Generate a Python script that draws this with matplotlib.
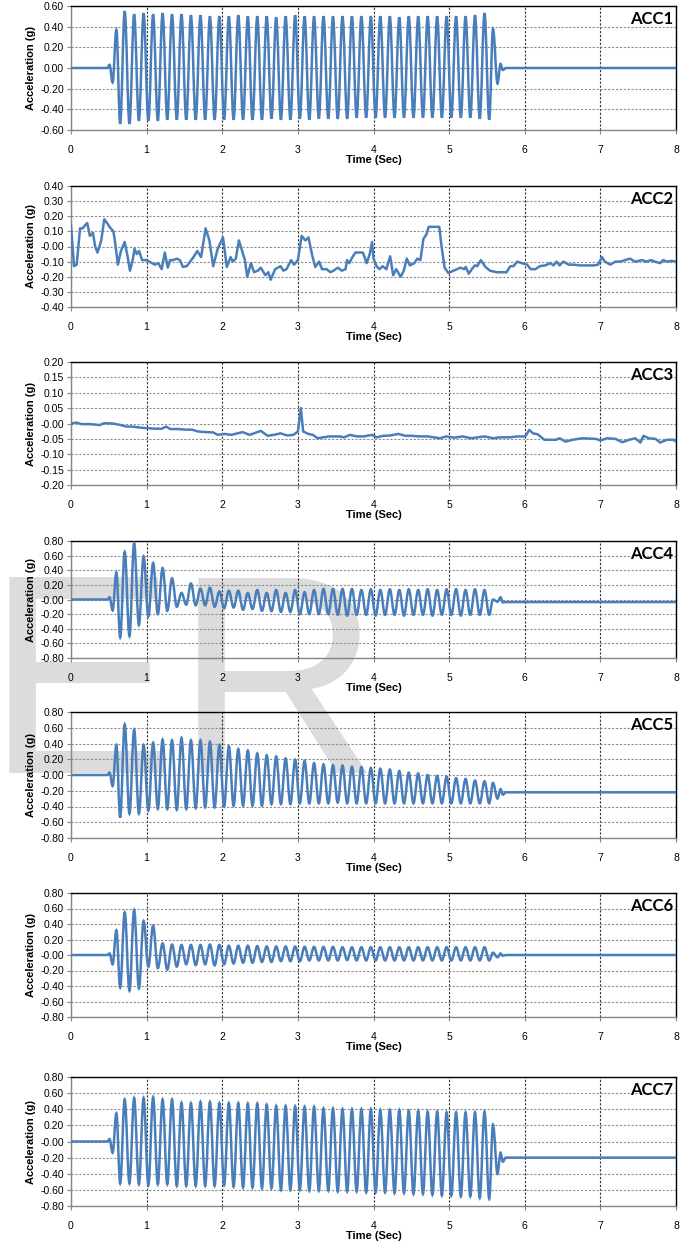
import matplotlib
matplotlib.use('Agg')
import matplotlib.pyplot as plt
from matplotlib.path import Path
from matplotlib.patches import PathPatch
import numpy as np

# shared extremum times of the 8 Hz shaking (pre-motion, 39 peak/trough pairs, tail)
ext_t = [0.0, 0.48, 0.51, 0.55, 0.60, 0.65,
         0.710, 0.773, 0.835, 0.898, 0.960, 1.023, 1.086, 1.148, 1.211, 1.273,
         1.336, 1.399, 1.461, 1.524, 1.586, 1.649, 1.712, 1.774, 1.837, 1.899,
         1.962, 2.025, 2.087, 2.150, 2.212, 2.275, 2.338, 2.400, 2.463, 2.525,
         2.588, 2.651, 2.713, 2.776, 2.838, 2.901, 2.964, 3.026, 3.089, 3.151,
         3.214, 3.277, 3.339, 3.402, 3.464, 3.527, 3.590, 3.652, 3.715, 3.777,
         3.840, 3.903, 3.965, 4.028, 4.090, 4.153, 4.216, 4.278, 4.341, 4.403,
         4.466, 4.529, 4.591, 4.654, 4.716, 4.779, 4.842, 4.904, 4.967, 5.029,
         5.092, 5.155, 5.217, 5.280, 5.342, 5.405, 5.468, 5.530,
         5.58, 5.64, 5.68, 5.71, 5.75, 8.0]

acc1_pre = [0, 0, 0.03, -0.14, 0.37, -0.54]
acc1_peaks = [0.55, 0.52, 0.53, 0.52, 0.53, 0.52, 0.52, 0.51, 0.51, 0.50, 0.50, 0.50, 0.51,
              0.50, 0.50, 0.50, 0.49, 0.50, 0.51, 0.50, 0.50, 0.50, 0.50, 0.50, 0.50, 0.50,
              0.50, 0.50, 0.50, 0.49, 0.50, 0.50, 0.50, 0.50, 0.50, 0.50, 0.50, 0.51, 0.53]
acc1_troughs = [-0.54, -0.51, -0.51, -0.51, -0.50, -0.50, -0.50, -0.50, -0.50, -0.50, -0.50,
                -0.50, -0.50, -0.50, -0.50, -0.49, -0.50, -0.50, -0.49, -0.50, -0.49, -0.49,
                -0.49, -0.49, -0.48, -0.48, -0.48, -0.48, -0.48, -0.48, -0.48, -0.48, -0.48,
                -0.48, -0.48, -0.48, -0.48, -0.49, -0.50]
acc1_tail = [0.38, -0.15, 0.04, -0.02, 0.0, 0.0]

acc4_pre = [0, 0, 0.03, -0.15, 0.37, -0.52]
acc4_peaks = [0.65, 0.77, 0.59, 0.50, 0.43, 0.29, 0.09, 0.22, 0.15, 0.16, 0.11, 0.12, 0.12,
              0.09, 0.13, 0.09, 0.13, 0.09, 0.13, 0.10, 0.13, 0.145, 0.145, 0.145, 0.145,
              0.13, 0.14, 0.13, 0.14, 0.13, 0.14, 0.13, 0.14, 0.13, 0.14, 0.14, 0.13, 0.14, 0.13]
acc4_troughs = [-0.50, -0.35, -0.23, -0.20, -0.155, -0.10, -0.07, -0.08, -0.08, -0.10, -0.12,
                -0.11, -0.14, -0.13, -0.155, -0.16, -0.17, -0.17, -0.20, -0.20, -0.20, -0.20,
                -0.21, -0.22, -0.21, -0.21, -0.22, -0.21, -0.21, -0.22, -0.21, -0.21, -0.22,
                -0.21, -0.21, -0.22, -0.21, -0.21, -0.21]
acc4_tail = [0.0, -0.03, 0.03, -0.04, -0.035, -0.035]

acc5_pre = [0, 0, 0.03, -0.14, 0.38, -0.54]
acc5_peaks = [0.64, 0.575, 0.38, 0.41, 0.45, 0.44, 0.47, 0.44, 0.44, 0.42, 0.38, 0.365, 0.33,
              0.31, 0.275, 0.25, 0.235, 0.21, 0.195, 0.18, 0.15, 0.135, 0.125, 0.12, 0.105,
              0.10, 0.09, 0.08, 0.07, 0.05, 0.03, 0.02, 0.0, -0.01, -0.02, -0.04, -0.05, -0.07, -0.08]
acc5_troughs = [-0.49, -0.49, -0.45, -0.43, -0.43, -0.44, -0.43, -0.42, -0.41, -0.41, -0.40,
                -0.39, -0.39, -0.39, -0.39, -0.37, -0.37, -0.37, -0.36, -0.36, -0.36, -0.36,
                -0.35, -0.36, -0.36, -0.36, -0.36, -0.36, -0.36, -0.36, -0.36, -0.36, -0.36,
                -0.36, -0.36, -0.36, -0.36, -0.36, -0.36]
acc5_tail = [-0.10, -0.30, -0.18, -0.25, -0.22, -0.22]

acc6_pre = [0, 0, 0.02, -0.12, 0.32, -0.42]
acc6_peaks = [0.55, 0.58, 0.44, 0.38, 0.15, 0.135, 0.13, 0.13, 0.13, 0.135, 0.13, 0.12, 0.12,
              0.12, 0.115, 0.11, 0.11, 0.11, 0.11, 0.105, 0.105, 0.105, 0.105, 0.10, 0.10,
              0.10, 0.10, 0.10, 0.10, 0.10, 0.10, 0.10, 0.10, 0.10, 0.10, 0.10, 0.10, 0.10, 0.10]
acc6_troughs = [-0.46, -0.43, -0.15, -0.17, -0.19, -0.15, -0.12, -0.13, -0.12, -0.135, -0.12,
                -0.11, -0.10, -0.10, -0.09, -0.09, -0.08, -0.08, -0.08, -0.07, -0.07, -0.07,
                -0.07, -0.065, -0.07, -0.07, -0.07, -0.07, -0.07, -0.07, -0.07, -0.07, -0.07,
                -0.07, -0.07, -0.07, -0.07, -0.07, -0.07]
acc6_tail = [0.03, -0.03, 0.02, -0.01, 0.0, 0.0]

acc7_pre = [0, 0, 0.03, -0.14, 0.35, -0.52]
acc7_peaks = [0.52, 0.54, 0.54, 0.55, 0.52, 0.52, 0.48, 0.475, 0.49, 0.49, 0.475, 0.475, 0.475,
              0.47, 0.47, 0.455, 0.44, 0.44, 0.435, 0.43, 0.43, 0.41, 0.41, 0.40, 0.40,
              0.40, 0.40, 0.39, 0.39, 0.39, 0.38, 0.38, 0.37, 0.37, 0.36, 0.36, 0.36, 0.36, 0.37]
acc7_troughs = [-0.52, -0.53, -0.54, -0.53, -0.53, -0.55, -0.55, -0.55, -0.55, -0.55, -0.54,
                -0.56, -0.57, -0.57, -0.58, -0.58, -0.60, -0.60, -0.60, -0.61, -0.61, -0.61,
                -0.62, -0.62, -0.62, -0.63, -0.63, -0.63, -0.64, -0.64, -0.65, -0.65, -0.66,
                -0.67, -0.67, -0.68, -0.68, -0.70, -0.71]
acc7_tail = [0.21, -0.40, -0.14, -0.25, -0.20, -0.20]

acc2_t = [0.00, 0.04, 0.075, 0.12, 0.155, 0.185, 0.215, 0.25, 0.29, 0.32, 0.35, 0.40, 0.44,
          0.47, 0.51, 0.56, 0.58, 0.62, 0.66, 0.71, 0.75, 0.78, 0.82, 0.84, 0.87, 0.90, 0.94,
          1.00, 1.07, 1.11, 1.155, 1.20, 1.24, 1.28, 1.31, 1.35, 1.40, 1.44, 1.48, 1.53, 1.575,
          1.62, 1.67, 1.72, 1.78, 1.83, 1.88, 1.94, 2.01, 2.06, 2.11, 2.14, 2.18, 2.22, 2.27,
          2.30, 2.33, 2.38, 2.42, 2.47, 2.51, 2.57, 2.61, 2.64, 2.70, 2.77, 2.81, 2.85, 2.91,
          2.95, 3.00, 3.05, 3.10, 3.14, 3.19, 3.23, 3.28, 3.32, 3.38, 3.43, 3.47, 3.53, 3.58,
          3.63, 3.65, 3.68, 3.71, 3.76, 3.80, 3.86, 3.91, 3.95, 3.98, 4.00, 4.04, 4.08, 4.12,
          4.17, 4.22, 4.26, 4.30, 4.36, 4.40, 4.44, 4.48, 4.54, 4.58, 4.62, 4.66, 4.70, 4.73,
          4.77, 4.81, 4.87, 4.90, 4.94, 4.99, 5.06, 5.11, 5.15, 5.20, 5.22, 5.26, 5.30, 5.34,
          5.37, 5.42, 5.48, 5.54, 5.63, 5.72, 5.76, 5.81, 5.85, 5.90, 5.96, 6.03, 6.08, 6.14,
          6.20, 6.27, 6.34, 6.38, 6.42, 6.46, 6.51, 6.58, 6.64, 6.73, 6.82, 6.91, 6.97, 7.02,
          7.06, 7.13, 7.20, 7.26, 7.33, 7.39, 7.46, 7.55, 7.61, 7.67, 7.72, 7.79, 7.83, 7.88,
          7.94, 8.00]
acc2_v = [0.14, -0.13, -0.12, 0.12, 0.12, 0.14, 0.155, 0.07, 0.09, 0.00, -0.04, 0.04, 0.18,
          0.16, 0.13, 0.10, 0.04, -0.12, -0.03, 0.03, -0.07, -0.16, -0.08, -0.015, -0.05, -0.03,
          -0.09, -0.09, -0.11, -0.12, -0.11, -0.15, -0.04, -0.14, -0.09, -0.09, -0.08, -0.09,
          -0.135, -0.13, -0.10, -0.07, -0.03, -0.07, 0.12, 0.04, -0.13, -0.015, 0.06, -0.135,
          -0.07, -0.10, -0.08, 0.04, -0.04, -0.09, -0.20, -0.11, -0.17, -0.16, -0.14, -0.19,
          -0.17, -0.22, -0.15, -0.13, -0.16, -0.15, -0.09, -0.12, -0.09, 0.07, 0.04, 0.06,
          -0.06, -0.135, -0.10, -0.15, -0.15, -0.17, -0.16, -0.14, -0.16, -0.15, -0.09, -0.11,
          -0.08, -0.04, -0.04, -0.04, -0.11, -0.05, 0.03, -0.08, -0.13, -0.15, -0.13, -0.15,
          -0.065, -0.19, -0.15, -0.20, -0.16, -0.08, -0.125, -0.11, -0.08, -0.09, 0.05, 0.08,
          0.13, 0.13, 0.13, 0.13, 0.00, -0.14, -0.175, -0.16, -0.15, -0.14, -0.15, -0.135,
          -0.18, -0.15, -0.125, -0.13, -0.09, -0.135, -0.16, -0.17, -0.17, -0.17, -0.13, -0.13,
          -0.10, -0.11, -0.12, -0.15, -0.15, -0.13, -0.125, -0.11, -0.125, -0.10, -0.125,
          -0.10, -0.12, -0.12, -0.125, -0.125, -0.125, -0.12, -0.07, -0.10, -0.12, -0.10,
          -0.10, -0.09, -0.08, -0.10, -0.09, -0.10, -0.09, -0.10, -0.11, -0.09, -0.10, -0.095,
          -0.10]

acc3_t = [0.00, 0.07, 0.14, 0.25, 0.38, 0.44, 0.55, 0.64, 0.73, 0.81, 0.90, 0.99, 1.12, 1.20,
          1.26, 1.31, 1.42, 1.51, 1.60, 1.68, 1.79, 1.88, 1.94, 2.03, 2.12, 2.20, 2.27, 2.36,
          2.42, 2.51, 2.60, 2.68, 2.77, 2.86, 2.94, 3.00, 3.04, 3.07, 3.14, 3.20, 3.26, 3.33,
          3.42, 3.55, 3.61, 3.69, 3.78, 3.87, 3.98, 4.04, 4.13, 4.22, 4.33, 4.42, 4.50, 4.61,
          4.72, 4.88, 4.96, 5.07, 5.18, 5.29, 5.47, 5.58, 5.67, 5.80, 5.91, 6.00, 6.02, 6.06,
          6.11, 6.17, 6.26, 6.41, 6.46, 6.54, 6.63, 6.76, 6.94, 7.00, 7.09, 7.20, 7.29, 7.38,
          7.46, 7.53, 7.57, 7.64, 7.73, 7.79, 7.88, 7.97, 8.00]
acc3_v = [0.000, 0.003, -0.002, -0.002, -0.005, 0.001, 0.000, -0.004, -0.010, -0.010, -0.013,
          -0.015, -0.017, -0.017, -0.010, -0.018, -0.018, -0.020, -0.020, -0.026, -0.028,
          -0.029, -0.037, -0.034, -0.037, -0.032, -0.028, -0.037, -0.032, -0.024, -0.040,
          -0.037, -0.032, -0.039, -0.037, -0.026, 0.050, -0.026, -0.034, -0.037, -0.048,
          -0.045, -0.042, -0.042, -0.045, -0.037, -0.042, -0.042, -0.037, -0.045, -0.040,
          -0.039, -0.034, -0.040, -0.040, -0.042, -0.042, -0.048, -0.042, -0.046, -0.042,
          -0.048, -0.042, -0.048, -0.045, -0.045, -0.042, -0.042, -0.037, -0.021, -0.032,
          -0.035, -0.053, -0.053, -0.048, -0.059, -0.053, -0.048, -0.050, -0.055, -0.048,
          -0.050, -0.061, -0.053, -0.048, -0.062, -0.040, -0.048, -0.050, -0.062, -0.053,
          -0.053, -0.059]

names = ['ACC1', 'ACC2', 'ACC3', 'ACC4', 'ACC5', 'ACC6', 'ACC7']
y_limits = [0.6, 0.4, 0.2, 0.8, 0.8, 0.8, 0.8]
y_steps = [0.2, 0.1, 0.05, 0.2, 0.2, 0.2, 0.2]

# panel placement in pixels (top, bottom) of a 699 x 1247 canvas
tops = [6, 186, 362, 541, 712, 893, 1077]
bottoms = [130, 307, 485, 658, 838, 1017, 1206]
W, H = 699.0, 1247.0
left_px, right_px = 71, 676

line_color = '#4a7ebb'


def osc(pre, peaks, troughs, tail):
    vals = list(pre)
    for p, t in zip(peaks, troughs):
        vals += [p, t]
    return vals + list(tail)


def smooth_path(t, v, k=0.363):
    # excel-style smoothed line: bezier between extrema with flat tangents
    verts = [(t[0], v[0])]
    codes = [Path.MOVETO]
    for i in range(1, len(t)):
        dt = t[i] - t[i - 1]
        verts += [(t[i - 1] + k * dt, v[i - 1]), (t[i] - k * dt, v[i]), (t[i], v[i])]
        codes += [Path.CURVE4] * 3
    return Path(verts, codes)


series = [
    (ext_t, osc(acc1_pre, acc1_peaks, acc1_troughs, acc1_tail), True),
    (acc2_t, acc2_v, False),
    (acc3_t, acc3_v, False),
    (ext_t, osc(acc4_pre, acc4_peaks, acc4_troughs, acc4_tail), True),
    (ext_t, osc(acc5_pre, acc5_peaks, acc5_troughs, acc5_tail), True),
    (ext_t, osc(acc6_pre, acc6_peaks, acc6_troughs, acc6_tail), True),
    (ext_t, osc(acc7_pre, acc7_peaks, acc7_troughs, acc7_tail), True),
]

fig = plt.figure(figsize=(6.99, 12.47), dpi=100)
fig.patch.set_facecolor('white')

# faint watermark behind the panels
fig.text(-0.021, 0.380, 'ER', fontsize=205, color='#dcdcdc', family='Liberation Sans',
         ha='left', va='baseline', zorder=-5)

for i, (t, v, smooth) in enumerate(series):
    ax = fig.add_axes([left_px / W, 1 - bottoms[i] / H,
                       (right_px - left_px) / W, (bottoms[i] - tops[i]) / H])
    ax.patch.set_alpha(0)
    if smooth:
        ax.add_patch(PathPatch(smooth_path(t, v), fill=False, edgecolor=line_color,
                               linewidth=1.8, zorder=3))
    else:
        ax.plot(t, v, color=line_color, linewidth=1.8, zorder=3)

    lim = y_limits[i]
    ax.set_xlim(0, 8)
    ax.set_ylim(-lim, lim)
    ax.set_xticks(range(9))
    yt = np.arange(-lim, lim + y_steps[i] / 2, y_steps[i])
    ax.set_yticks(yt)
    ax.set_yticklabels(['%.2f' % y for y in yt])

    ax.grid(axis='y', color='#8c8c8c', linestyle=(0, (2, 1.5)), linewidth=0.8)
    ax.grid(axis='x', color='#333333', linestyle=(0, (2, 1.5)), linewidth=0.8)
    ax.set_axisbelow(True)

    for s in ['top', 'right']:
        ax.spines[s].set_color('#000000')
        ax.spines[s].set_linewidth(1.0)
    for s in ['left', 'bottom']:
        ax.spines[s].set_color('#868686')
        ax.spines[s].set_linewidth(1.0)

    ax.tick_params(axis='both', direction='out', length=3, width=0.8, color='#868686',
                   labelsize=7.5, pad=8)
    ax.tick_params(axis='y', pad=2)
    for lab in ax.get_yticklabels() + ax.get_xticklabels():
        lab.set_family('Liberation Sans')

    ax.set_xlabel('Time (Sec)', fontsize=8, fontweight='bold', family='Liberation Sans',
                  labelpad=0)
    ax.set_ylabel('Acceleration (g)', fontsize=8, fontweight='bold', family='Liberation Sans',
                  labelpad=3)
    ax.text(0.995, 0.96, names[i], transform=ax.transAxes, ha='right', va='top',
            fontsize=12, fontweight='bold', family='Lato', zorder=4)

fig.savefig('out.png', dpi=100)
